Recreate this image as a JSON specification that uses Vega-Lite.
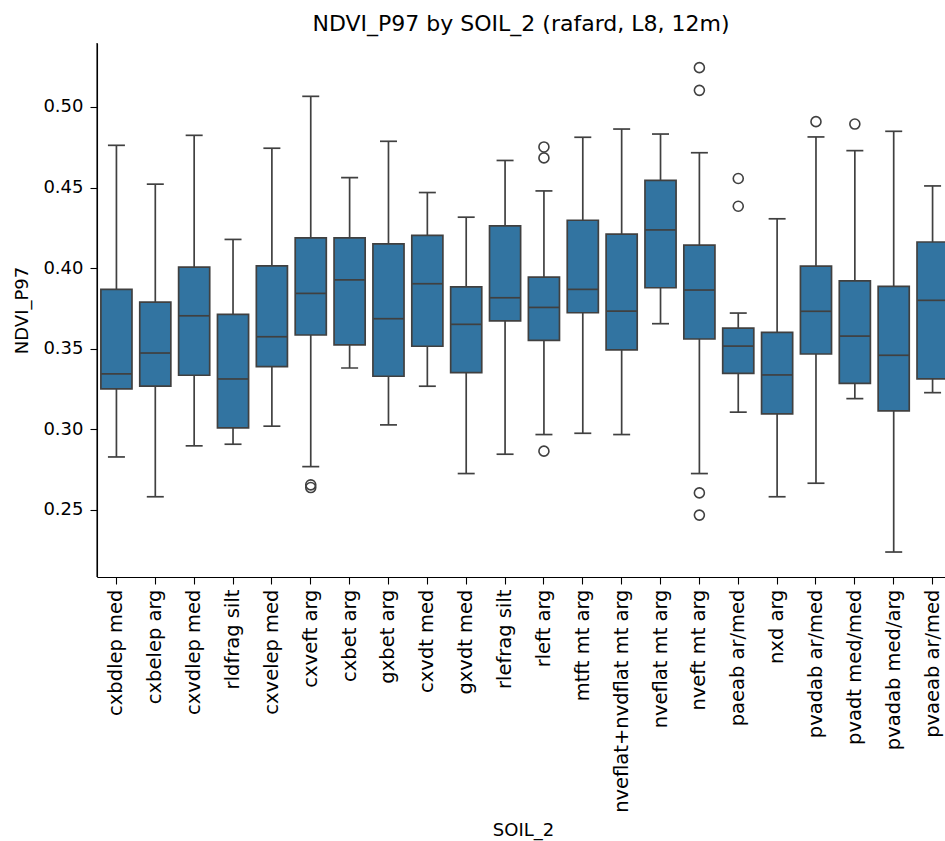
{
  "$schema": "https://vega.github.io/schema/vega-lite/v6.json",
  "width": 848,
  "height": 534,
  "autosize": "none",
  "padding": {"left": 97, "top": 43, "right": 0, "bottom": 264},
  "background": "white",
  "title": {
    "text": "NDVI_P97 by SOIL_2 (rafard, L8, 12m)",
    "font": "DejaVu Sans",
    "fontSize": 22,
    "fontWeight": "normal",
    "color": "black",
    "anchor": "middle",
    "baseline": "alphabetic",
    "offset": 13,
    "dy": 24
  },
  "datasets": {
    "boxes": [
      {"soil": "cxbdlep med", "lower": 0.2828, "q1": 0.3250, "median": 0.3343, "q3": 0.3868, "upper": 0.4762},
      {"soil": "cxbelep arg", "lower": 0.2581, "q1": 0.3267, "median": 0.3473, "q3": 0.3789, "upper": 0.4521},
      {"soil": "cxvdlep med", "lower": 0.2897, "q1": 0.3335, "median": 0.3704, "q3": 0.4006, "upper": 0.4824},
      {"soil": "rldfrag silt", "lower": 0.2907, "q1": 0.3008, "median": 0.3312, "q3": 0.3713, "upper": 0.4178},
      {"soil": "cxvelep med", "lower": 0.3019, "q1": 0.3388, "median": 0.3574, "q3": 0.4014, "upper": 0.4744},
      {"soil": "cxveft arg", "lower": 0.2768, "q1": 0.3585, "median": 0.3843, "q3": 0.4188, "upper": 0.5066},
      {"soil": "cxbet arg", "lower": 0.3380, "q1": 0.3523, "median": 0.3927, "q3": 0.4188, "upper": 0.4562},
      {"soil": "gxbet arg", "lower": 0.3027, "q1": 0.3329, "median": 0.3686, "q3": 0.4150, "upper": 0.4787},
      {"soil": "cxvdt med", "lower": 0.3267, "q1": 0.3515, "median": 0.3903, "q3": 0.4203, "upper": 0.4469},
      {"soil": "gxvdt med", "lower": 0.2725, "q1": 0.3351, "median": 0.3651, "q3": 0.3884, "upper": 0.4316},
      {"soil": "rlefrag silt", "lower": 0.2845, "q1": 0.3672, "median": 0.3816, "q3": 0.4262, "upper": 0.4668},
      {"soil": "rleft arg", "lower": 0.2967, "q1": 0.3552, "median": 0.3756, "q3": 0.3944, "upper": 0.4479},
      {"soil": "mtft mt arg", "lower": 0.2975, "q1": 0.3723, "median": 0.3868, "q3": 0.4297, "upper": 0.4812},
      {"soil": "nveflat+nvdflat mt arg", "lower": 0.2967, "q1": 0.3492, "median": 0.3733, "q3": 0.4211, "upper": 0.4863},
      {"soil": "nveflat mt arg", "lower": 0.3655, "q1": 0.3878, "median": 0.4237, "q3": 0.4545, "upper": 0.4832},
      {"soil": "nveft mt arg", "lower": 0.2725, "q1": 0.3560, "median": 0.3864, "q3": 0.4142, "upper": 0.4716},
      {"soil": "paeab ar/med", "lower": 0.3106, "q1": 0.3347, "median": 0.3516, "q3": 0.3628, "upper": 0.3721},
      {"soil": "nxd arg", "lower": 0.2581, "q1": 0.3095, "median": 0.3337, "q3": 0.3601, "upper": 0.4306},
      {"soil": "pvadab ar/med", "lower": 0.2665, "q1": 0.3467, "median": 0.3732, "q3": 0.4012, "upper": 0.4814},
      {"soil": "pvadt med/med", "lower": 0.3190, "q1": 0.3285, "median": 0.3578, "q3": 0.3921, "upper": 0.4729},
      {"soil": "pvadab med/arg", "lower": 0.2238, "q1": 0.3114, "median": 0.3459, "q3": 0.3887, "upper": 0.4849},
      {"soil": "pvaeab ar/med", "lower": 0.3227, "q1": 0.3313, "median": 0.3800, "q3": 0.4162, "upper": 0.4510}
    ],
    "outliers": [
      {"soil": "cxveft arg", "value": 0.2655},
      {"soil": "cxveft arg", "value": 0.2638},
      {"soil": "rleft arg", "value": 0.4752},
      {"soil": "rleft arg", "value": 0.4684},
      {"soil": "rleft arg", "value": 0.2864},
      {"soil": "nveft mt arg", "value": 0.5244},
      {"soil": "nveft mt arg", "value": 0.5103},
      {"soil": "nveft mt arg", "value": 0.2605},
      {"soil": "nveft mt arg", "value": 0.2467},
      {"soil": "paeab ar/med", "value": 0.4556},
      {"soil": "paeab ar/med", "value": 0.4384},
      {"soil": "pvadab ar/med", "value": 0.4909},
      {"soil": "pvadt med/med", "value": 0.4894}
    ]
  },
  "config": {
    "view": {"stroke": null},
    "axis": {
      "grid": false,
      "domainColor": "black",
      "domainWidth": 1.1,
      "tickColor": "black",
      "tickWidth": 1.1,
      "tickSize": 7,
      "labelFont": "DejaVu Sans",
      "labelFontSize": 18,
      "labelColor": "black",
      "titleFont": "DejaVu Sans",
      "titleFontSize": 18,
      "titleFontWeight": "normal",
      "titleColor": "black"
    }
  },
  "encoding": {
    "x": {
      "field": "soil",
      "type": "nominal",
      "title": "SOIL_2",
      "scale": {
        "domain": ["cxbdlep med", "cxbelep arg", "cxvdlep med", "rldfrag silt", "cxvelep med", "cxveft arg", "cxbet arg", "gxbet arg", "cxvdt med", "gxvdt med", "rlefrag silt", "rleft arg", "mtft mt arg", "nveflat+nvdflat mt arg", "nveflat mt arg", "nveft mt arg", "paeab ar/med", "nxd arg", "pvadab ar/med", "pvadt med/med", "pvadab med/arg", "pvaeab ar/med"],
        "range": [0, 855],
        "paddingInner": 0.2,
        "paddingOuter": 0.1
      },
      "axis": {
        "labelAngle": 270,
        "labelPadding": 5,
        "labelFontSize": 19.5,
        "labelLimit": 400,
        "labelOverlap": false,
        "titleX": 426,
        "titleY": 258,
        "titleAlign": "center",
        "titleBaseline": "alphabetic",
        "titleAnchor": null
      }
    }
  },
  "layer": [
    {
      "data": {"name": "boxes"},
      "mark": {"type": "rule", "color": "#404040", "strokeWidth": 1.7},
      "encoding": {
        "y": {
          "field": "lower",
          "type": "quantitative",
          "title": "NDVI_P97",
          "scale": {"domain": [0.2083, 0.5397], "nice": false, "zero": false},
          "axis": {
            "values": [0.25, 0.3, 0.35, 0.4, 0.45, 0.5],
            "format": ".2f",
            "labelPadding": 7,
            "titleX": -75,
            "titleY": 267,
            "titleAngle": 270,
            "titleAlign": "center",
            "titleBaseline": "middle",
            "titleAnchor": null
          }
        },
        "y2": {"field": "upper"}
      }
    },
    {
      "data": {"name": "boxes"},
      "mark": {"type": "bar", "fill": "#3274a1", "stroke": "#404040", "strokeWidth": 1.7},
      "encoding": {
        "y": {"field": "q1", "type": "quantitative"},
        "y2": {"field": "q3"}
      }
    },
    {
      "data": {"name": "boxes"},
      "mark": {"type": "tick", "color": "#404040", "size": 31, "thickness": 1.7, "opacity": 1},
      "encoding": {
        "y": {"field": "median", "type": "quantitative"}
      }
    },
    {
      "data": {"name": "boxes"},
      "mark": {"type": "tick", "color": "#404040", "size": 17, "thickness": 1.7, "opacity": 1},
      "encoding": {
        "y": {"field": "lower", "type": "quantitative"}
      }
    },
    {
      "data": {"name": "boxes"},
      "mark": {"type": "tick", "color": "#404040", "size": 17, "thickness": 1.7, "opacity": 1},
      "encoding": {
        "y": {"field": "upper", "type": "quantitative"}
      }
    },
    {
      "data": {"name": "outliers"},
      "mark": {"type": "point", "shape": "circle", "filled": false, "stroke": "#404040", "strokeWidth": 1.6, "size": 100, "opacity": 1},
      "encoding": {
        "y": {"field": "value", "type": "quantitative"}
      }
    },
    {
      "data": {"values": [{"top": 0.5397}]},
      "mark": {"type": "rule", "color": "black", "strokeWidth": 1.1},
      "encoding": {
        "y": {"field": "top", "type": "quantitative"}
      }
    }
  ]
}
